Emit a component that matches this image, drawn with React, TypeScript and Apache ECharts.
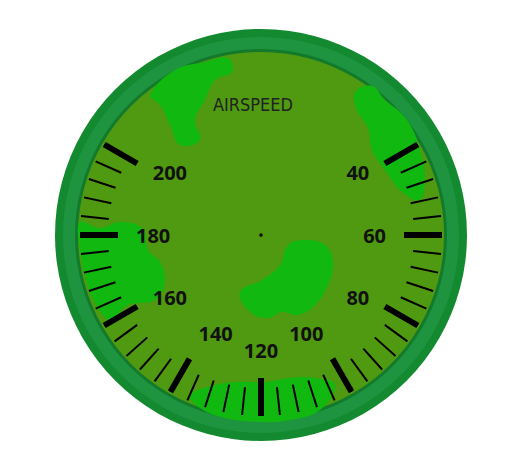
import * as echarts from "echarts";
import { useEffect, useRef } from "react";

const speedMin = 40;
const speedMax = 200;
const speedValue = [40];
const gaugeTitle = ["AIRSPEED"];

// the chart div sits at the body's 8px margin
const cx = 253;
const cy = 227;

// camouflage blobs, points given in page coordinates
const blobs: number[][][] = [
	[[150, 95], [175, 70], [205, 62], [228, 58], [232, 72], [215, 80], [205, 100], [195, 120], [200, 140], [180, 145], [170, 125], [160, 105]],
	[[355, 92], [372, 86], [385, 100], [400, 112], [412, 128], [420, 150], [425, 175], [420, 200], [402, 192], [385, 170], [372, 150], [368, 128], [357, 110]],
	[[240, 292], [262, 280], [280, 265], [288, 245], [305, 240], [325, 245], [333, 262], [328, 285], [315, 305], [298, 315], [282, 312], [268, 318], [250, 312]],
	[[80, 222], [100, 228], [120, 222], [142, 228], [148, 250], [160, 262], [165, 282], [155, 300], [128, 305], [110, 320], [96, 305], [86, 280], [80, 250]],
	[[190, 395], [215, 385], [238, 382], [265, 382], [290, 378], [315, 378], [335, 385], [320, 410], [290, 420], [260, 422], [225, 418], [200, 408]],
];

export default function App() {
	const ref = useRef<HTMLDivElement>(null);
	useEffect(() => {
		if (!ref.current) return;
		const chart = echarts.init(ref.current, undefined, { renderer: "svg" });
		chart.setOption({
			animation: false,
			graphic: [
				{ type: "circle", shape: { cx, cy, r: 206 }, style: { fill: "#138a2f" }, z: -10 },
				{ type: "circle", shape: { cx, cy, r: 198 }, style: { fill: "#1e9440" }, z: -10 },
				{ type: "circle", shape: { cx, cy, r: 186 }, style: { fill: "#137a2c" }, z: -10 },
				{ type: "circle", shape: { cx, cy, r: 183 }, style: { fill: "#4f9a10" }, z: -9 },
				...blobs.map((pts) => ({
					type: "polygon",
					shape: { points: pts.map(([x, y]) => [x - 8, y - 8]), smooth: 0.4 },
					style: { fill: "#10b810" },
					z: -8,
				})),
				{ type: "circle", shape: { cx, cy, r: 1.8 }, style: { fill: "#111" }, z: 10 },
			],
			series: [
				{
					type: "gauge",
					center: [cx, cy],
					radius: 183,
					startAngle: 30,
					endAngle: -210,
					min: speedMin,
					max: speedMax,
					splitNumber: 8,
					axisLine: { lineStyle: { width: 0, color: [[1, "rgba(0,0,0,0)"]] } },
					splitLine: { distance: 2, length: 38, lineStyle: { width: 6, color: "#000" } },
					axisTick: { splitNumber: 5, distance: 2, length: 28, lineStyle: { width: 2, color: "#000" } },
					axisLabel: {
						distance: 18,
						color: "#111",
						fontSize: 20,
						fontWeight: "bold",
						fontFamily: "Open Sans",
					},
					pointer: { show: false },
					anchor: { show: false },
					detail: { show: false },
					title: {
						offsetCenter: [-8, -131],
						fontSize: 18,
						color: "#222",
						fontFamily: "DejaVu Sans Condensed, DejaVu Sans",
					},
					data: [{ value: speedValue[0], name: gaugeTitle[0] }],
				},
			],
		});
		return () => chart.dispose();
	}, []);
	return <div ref={ref} style={{ width: 514, height: 455 }} />;
}
